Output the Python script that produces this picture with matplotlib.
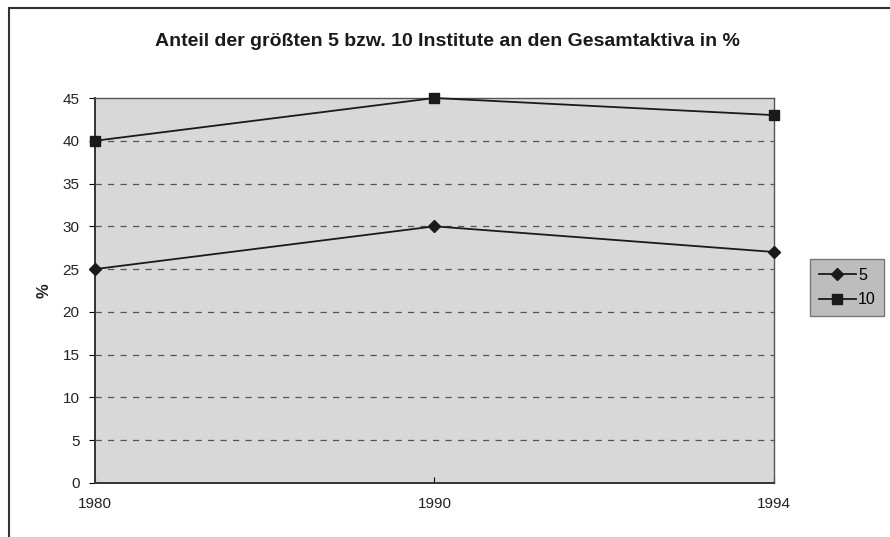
import numpy as np
import matplotlib.pyplot as plt
from matplotlib.lines import Line2D

plt.rcParams['font.family'] = ['Liberation Sans', 'DejaVu Sans']

years = ['1980', '1990', '1994']
top5 = [25, 30, 27]
top10 = [40, 45, 43]
yticks = [0, 5, 10, 15, 20, 25, 30, 35, 40, 45]

fig = plt.figure(figsize=(8.9, 5.37), dpi=100)
ax = fig.add_axes([0.1067, 0.1006, 0.763, 0.7169])
ax.set_facecolor('#d8d8d8')

x = np.arange(len(years))
ax.plot(x, top5, color='#1a1a1a', lw=1.3, marker='D', ms=6, label='5', clip_on=False, zorder=5)
ax.plot(x, top10, color='#1a1a1a', lw=1.3, marker='s', ms=7, label='10', clip_on=False, zorder=5)

ax.set_xlim(0, 2)
ax.set_ylim(0, 45)
ax.set_xticks(x)
ax.set_xticklabels(years, fontsize=11, color='#222222')
ax.set_yticks(yticks)
ax.set_yticklabels([str(v) for v in yticks], fontsize=11, color='#222222')
ax.tick_params(axis='x', direction='in', length=4, pad=10)
ax.tick_params(axis='y', direction='out', length=4, pad=7)

for v in yticks[1:-1]:
    ax.axhline(v, color='#555555', lw=0.9, ls=(0, (5, 5)), zorder=1)

for s in ['left', 'bottom']:
    ax.spines[s].set_color('#333333')
    ax.spines[s].set_linewidth(1.4)
for s in ['top', 'right']:
    ax.spines[s].set_color('#555555')
    ax.spines[s].set_linewidth(1.0)

ax.set_ylabel('%', fontsize=12, fontweight='bold', labelpad=8, color='#222222')

fig.text(0.503, 0.922, 'Anteil der größten 5 bzw. 10 Institute an den Gesamtaktiva in %',
         ha='center', va='center', fontsize=14, fontweight='bold', color='#1a1a1a')

leg = ax.legend(loc='center left', bbox_to_anchor=(1.053, 0.508), frameon=True,
                fancybox=False, fontsize=11.5, handlelength=2.3, borderpad=0.55,
                labelspacing=0.6, handletextpad=0.15, borderaxespad=0)
leg.get_frame().set_facecolor('#bdbdbd')
leg.get_frame().set_edgecolor('#777777')
leg.get_frame().set_alpha(1)

fig.add_artist(Line2D([0.010, 1.0], [0.985, 0.985], color='#333333', lw=1.5))
fig.add_artist(Line2D([0.010, 0.010], [0.0, 0.985], color='#333333', lw=1.5))

fig.savefig('out.png', dpi=100)
